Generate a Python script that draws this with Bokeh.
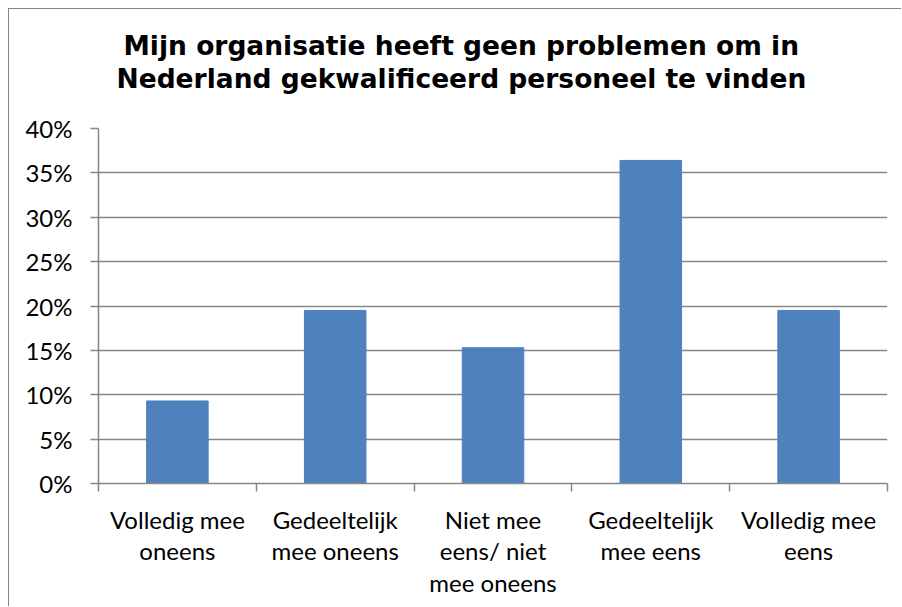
from bokeh.plotting import figure
from bokeh.models import Range1d, FixedTicker, Title
from bokeh.embed import file_html
from bokeh.resources import INLINE

categories = ["Volledig mee\noneens", "Gedeeltelijk\nmee oneens", "Niet mee\neens/ niet\nmee oneens",
              "Gedeeltelijk\nmee eens", "Volledig mee\neens"]
percentages = [9.3, 19.5, 15.3, 36.4, 19.5]
y_ticks = [0, 5, 10, 15, 20, 25, 30, 35, 40]
y_tick_labels = ["0%", "5%", "10%", "15%", "20%", "25%", "30%", "35%", "40%"]
title_lines = ["Mijn organisatie heeft geen problemen om in",
               "Nederland gekwalificeerd personeel te vinden"]

centers = [i + 0.5 for i in range(len(categories))]

p = figure(width=893, height=598, output_backend="svg", toolbar_location=None,
           x_range=Range1d(0, len(categories)), y_range=Range1d(0, 40),
           min_border_left=89, min_border_right=15, min_border_top=119, min_border_bottom=124)
p.styles = {"border-left": "1px solid #868686", "border-top": "1px solid #868686",
            "margin-left": "8px", "margin-top": "8px"}

p.vbar(x=centers, top=percentages, width=0.39, fill_color="#4F81BD", line_color="#4F81BD")

title_style = dict(align="left", text_font="DejaVu Sans", text_font_style="bold",
                   text_font_size="26.5px", text_color="#000000")
# spacer between the title block and the plot area
p.add_layout(Title(text=" ", text_font_size="1px", standoff=32), "above")
p.add_layout(Title(text=title_lines[1], offset=18, standoff=0, **title_style), "above")
p.add_layout(Title(text=title_lines[0], offset=25, standoff=0, **title_style), "above")
p.outline_line_color = None

# y axis
p.yaxis.ticker = FixedTicker(ticks=y_ticks)
p.yaxis.major_label_overrides = {t: l for t, l in zip(y_ticks, y_tick_labels)}
p.yaxis.major_label_text_font = "Lato"
p.yaxis.major_label_text_font_size = "24px"
p.yaxis.major_label_text_color = "#000000"
p.yaxis.axis_line_color = "#868686"
p.yaxis.axis_line_width = 1.5
p.yaxis.major_tick_line_color = "#868686"
p.yaxis.major_tick_line_width = 1.5
p.yaxis.major_tick_out = 8
p.yaxis.major_tick_in = 0
p.yaxis.minor_tick_line_color = None
p.yaxis.major_label_standoff = 18

# x axis
p.xaxis.ticker = FixedTicker(ticks=centers, minor_ticks=list(range(len(categories) + 1)))
p.xaxis.major_label_overrides = {c: l for c, l in zip(centers, categories)}
p.xaxis.major_label_text_font = "Lato"
p.xaxis.major_label_text_font_size = "24px"
p.xaxis.major_label_text_color = "#000000"
p.xaxis.major_label_text_line_height = 1.1
p.xaxis.axis_line_color = "#868686"
p.xaxis.axis_line_width = 1.5
p.xaxis.major_tick_line_color = None
p.xaxis.minor_tick_line_color = "#868686"
p.xaxis.minor_tick_line_width = 1.5
p.xaxis.minor_tick_out = 8
p.xaxis.minor_tick_in = 0
p.xaxis.major_label_standoff = 13

p.xgrid.grid_line_color = None
p.ygrid.ticker = FixedTicker(ticks=y_ticks)
p.ygrid.grid_line_color = "#868686"
p.ygrid.grid_line_width = 1.5

open("out.html", "w").write(file_html(p, INLINE))
